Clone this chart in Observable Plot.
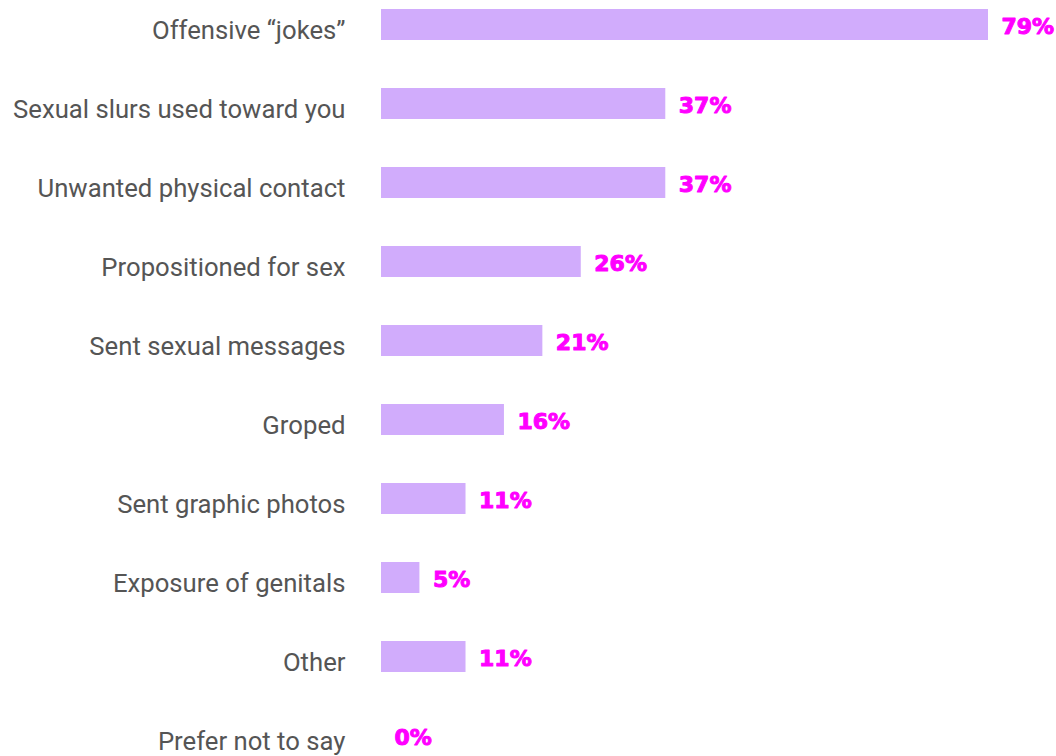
<!DOCTYPE html>
<html>
<head>
<meta charset="utf-8">
<script src="https://cdn.jsdelivr.net/npm/d3@7"></script>
<script src="https://cdn.jsdelivr.net/npm/@observablehq/plot@0.6"></script>
<style>
  html, body { margin: 0; padding: 0; background: #fff; }
  #chart svg { display: block; }
</style>
</head>
<body>
<div id="chart"></div>
<script>
const categories = [
  "Offensive \u201cjokes\u201d",
  "Sexual slurs used toward you",
  "Unwanted physical contact",
  "Propositioned for sex",
  "Sent sexual messages",
  "Groped",
  "Sent graphic photos",
  "Exposure of genitals",
  "Other",
  "Prefer not to say"
];
const values = [79, 37, 37, 26, 21, 16, 11, 5, 11, 0];

const data = categories.map((c, i) => ({label: c, value: values[i]}));

const chart = Plot.plot({
  width: 1056,
  height: 756,
  marginLeft: 381,
  marginRight: 68,
  marginTop: 9,
  marginBottom: 5,
  style: {background: "#fff"},
  x: {domain: [0, 79], axis: null},
  y: {domain: categories, paddingInner: 0.6076, paddingOuter: 0, label: null},
  marks: [
    Plot.barX(data, {x: "value", y: "label", fill: "#d1acfc"}),
    Plot.text(data, {
      x: "value", y: "label",
      text: d => d.value + "%",
      dx: 13, dy: 1.5, textAnchor: "start",
      fill: "#ff00ff", stroke: "#ff00ff", strokeWidth: 1,
      fontSize: 22, fontWeight: "bold",
      fontFamily: "DejaVu Sans"
    }),
    Plot.axisY({
      tickSize: 0, tickPadding: 36, label: null,
      fontSize: 25.7, fontFamily: "Roboto", fill: "#555", dy: 5.5
    })
  ]
});
document.getElementById("chart").append(chart);
</script>
</body>
</html>
